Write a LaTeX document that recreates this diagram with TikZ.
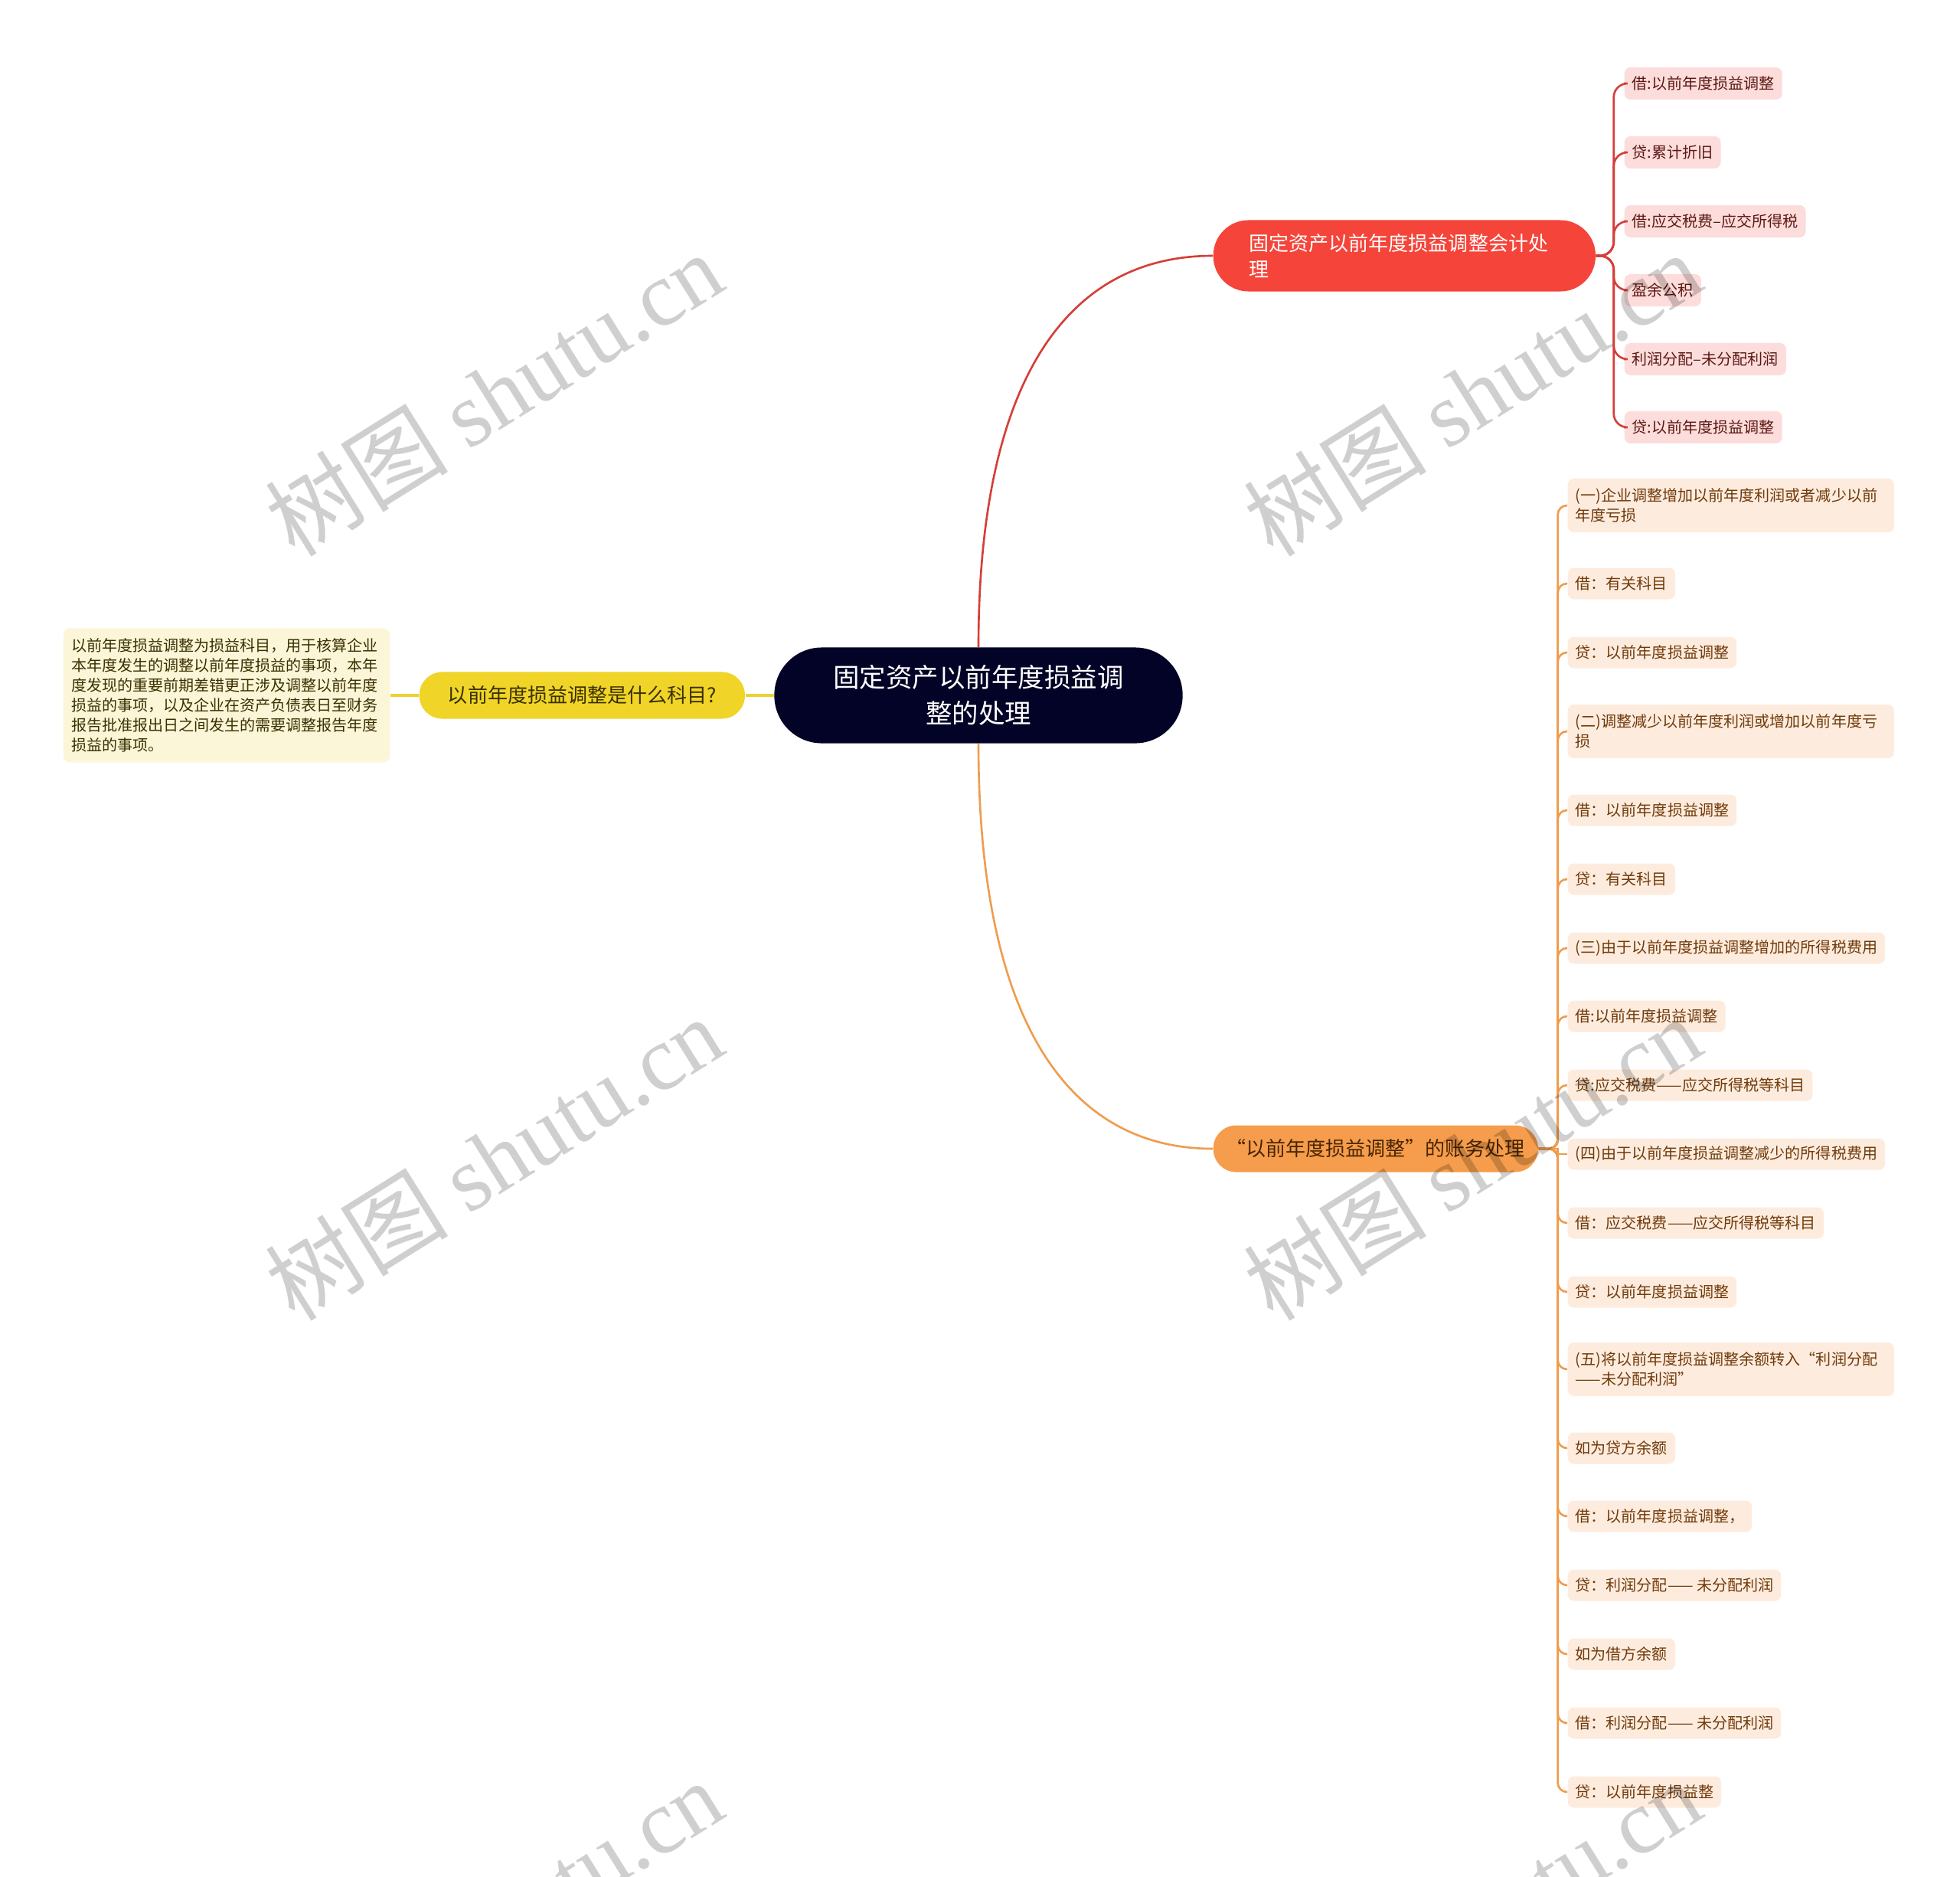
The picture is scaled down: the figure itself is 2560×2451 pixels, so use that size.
\documentclass[tikz,border=0pt]{standalone}
\usepackage{fontspec}
\setmainfont{Noto Sans CJK SC}
\newfontfamily\wmlatin{Liberation Serif}
\usetikzlibrary{positioning}

\definecolor{hubfill}{RGB}{2,3,38}
\definecolor{redfill}{RGB}{245,68,58}
\definecolor{redwire}{RGB}{214,62,56}
\definecolor{pinkfill}{RGB}{252,221,219}
\definecolor{pinktext}{RGB}{92,24,20}
\definecolor{yelfill}{RGB}{240,212,40}
\definecolor{yelwire}{RGB}{236,208,52}
\definecolor{yeltext}{RGB}{58,48,0}
\definecolor{notefill}{RGB}{252,246,216}
\definecolor{orfill}{RGB}{245,157,76}
\definecolor{orwire}{RGB}{238,157,78}
\definecolor{ortext}{RGB}{72,36,0}
\definecolor{orleaffill}{RGB}{253,236,222}
\definecolor{orleaftext}{RGB}{112,58,10}

\begin{document}
\begin{tikzpicture}[x=0.01cm, y=-0.01cm,
      hub/.style={rectangle, rounded corners=0.62cm, fill=hubfill, text=white,
        minimum width=5.33cm, minimum height=1.25cm, align=center,
        font=\fontsize{9.8}{13.4}\selectfont},
      branch/.style={rectangle, fill=#1, rounded corners=0.3cm, minimum height=0.61cm,
        font=\fontsize{7.4}{9.7}\selectfont},
      redleaf/.style={rectangle, fill=pinkfill, text=pinktext, rounded corners=0.08cm,
        minimum height=0.42cm, inner xsep=0.1cm, inner ysep=0pt, anchor=west,
        font=\fontsize{5.7}{7.4}\selectfont},
      orleaf/.style={rectangle, fill=orleaffill, text=orleaftext, rounded corners=0.08cm,
        minimum height=0.41cm, inner xsep=0.1cm, inner ysep=0pt, anchor=west,
        font=\fontsize{5.7}{7.4}\selectfont},
      orlong/.style={orleaf, text width=4.06cm, align=left, minimum height=0.70cm},
      note/.style={rectangle, fill=notefill, text=yeltext, rounded corners=0.08cm,
        text width=4.06cm, align=left, inner xsep=0.1cm, minimum height=1.75cm,
        font=\fontsize{5.7}{7.4}\selectfont},
      redcon/.style={draw=redwire, line width=0.75pt},
      orcon/.style={draw=orwire, line width=0.75pt},
      yelcon/.style={draw=yelwire, line width=1pt},
      wm/.style={text=black, opacity=0.19, rotate=32, font=\fontsize{34}{34}\selectfont}]

  \fill[white] (0,0) rectangle (2560,2451);
  \useasboundingbox (0,0) rectangle (2560,2451);

  % centre and the three branches
  \node[hub] (hub) at (1278,908) {固定资产以前年度损益调\\整的处理};
  \node[branch=redfill, text=white, anchor=west, text width=4.05cm, align=left,
        inner xsep=0.47cm, minimum height=0.93cm, rounded corners=0.46cm] (rbr) at (1584,334)
        {固定资产以前年度损益调整会计处\\理};
  \node[branch=yelfill, text=yeltext, minimum width=4.25cm, left=0.37cm of hub] (ybr)
        {以前年度损益调整是什么科目?};
  \node[branch=orfill, text=ortext, anchor=west, minimum width=4.24cm] (obr) at (1584,1500)
        {“以前年度损益调整”的账务处理};

  % note on the left
  \node[note, left=0.37cm of ybr] (yn) {以前年度损益调整为损益科目，用于核算企业\\本年度发生的调整以前年度损益的事项，本年\\度发现的重要前期差错更正涉及调整以前年度\\损益的事项，以及企业在资产负债表日至财务\\报告批准报出日之间发生的需要调整报告年度\\损益的事项。};

  % red leaves
  \node[redleaf] (r1) at (2121,109) {借:以前年度损益调整};
  \node[redleaf] (r2) at (2121,199) {贷:累计折旧};
  \node[redleaf] (r3) at (2121,289) {借:应交税费–应交所得税};
  \node[redleaf] (r4) at (2121,379) {盈余公积};
  \node[redleaf] (r5) at (2121,469) {利润分配–未分配利润};
  \node[redleaf] (r6) at (2121,558) {贷:以前年度损益调整};

  % orange leaves
  \node[orlong] (o1) at (2047,660) {(一)企业调整增加以前年度利润或者减少以前\\年度亏损};
  \node[orleaf] (o2) at (2047,762) {借：有关科目};
  \node[orleaf] (o3) at (2047,852) {贷：以前年度损益调整};
  \node[orlong] (o4) at (2047,955) {(二)调整减少以前年度利润或增加以前年度亏\\损};
  \node[orleaf] (o5) at (2047,1058) {借：以前年度损益调整};
  \node[orleaf] (o6) at (2047,1148) {贷：有关科目};
  \node[orleaf] (o7) at (2047,1238) {(三)由于以前年度损益调整增加的所得税费用};
  \node[orleaf] (o8) at (2047,1327) {借:以前年度损益调整};
  \node[orleaf] (o9) at (2047,1417) {贷:应交税费——应交所得税等科目};
  \node[orleaf] (o10) at (2047,1507) {(四)由于以前年度损益调整减少的所得税费用};
  \node[orleaf] (o11) at (2047,1597) {借：应交税费——应交所得税等科目};
  \node[orleaf] (o12) at (2047,1687) {贷：以前年度损益调整};
  \node[orlong] (o13) at (2047,1788) {(五)将以前年度损益调整余额转入“利润分配\\——未分配利润”};
  \node[orleaf] (o14) at (2047,1891) {如为贷方余额};
  \node[orleaf] (o15) at (2047,1980) {借：以前年度损益调整，};
  \node[orleaf] (o16) at (2047,2070) {贷：利润分配—— 未分配利润};
  \node[orleaf] (o17) at (2047,2160) {如为借方余额};
  \node[orleaf] (o18) at (2047,2250) {借：利润分配—— 未分配利润};
  \node[orleaf] (o19) at (2047,2340) {贷：以前年度损益整};

  % connectors
  \draw[redcon] (hub.north) .. controls +(0,-358) and +(-184,0) .. (rbr.west);
  \draw[orcon] (hub.south) .. controls +(0,370) and +(-184,0) .. (obr.west);
  \draw[yelcon] (hub.west) -- (ybr.east);
  \draw[yelcon] (ybr.west) -- (yn.east);
  \draw[redcon, rounded corners=0.18cm] (rbr.east) -- ++(23,0) |- (r1.west);
  \draw[redcon, rounded corners=0.18cm] (rbr.east) -- ++(23,0) |- (r2.west);
  \draw[redcon, rounded corners=0.18cm] (rbr.east) -- ++(23,0) |- (r3.west);
  \draw[redcon, rounded corners=0.18cm] (rbr.east) -- ++(23,0) |- (r4.west);
  \draw[redcon, rounded corners=0.18cm] (rbr.east) -- ++(23,0) |- (r5.west);
  \draw[redcon, rounded corners=0.18cm] (rbr.east) -- ++(23,0) |- (r6.west);
  \draw[orcon, rounded corners=0.12cm] (obr.east) -- ++(25,0) |- (o1.west);
  \draw[orcon, rounded corners=0.12cm] (obr.east) -- ++(25,0) |- (o2.west);
  \draw[orcon, rounded corners=0.12cm] (obr.east) -- ++(25,0) |- (o3.west);
  \draw[orcon, rounded corners=0.12cm] (obr.east) -- ++(25,0) |- (o4.west);
  \draw[orcon, rounded corners=0.12cm] (obr.east) -- ++(25,0) |- (o5.west);
  \draw[orcon, rounded corners=0.12cm] (obr.east) -- ++(25,0) |- (o6.west);
  \draw[orcon, rounded corners=0.12cm] (obr.east) -- ++(25,0) |- (o7.west);
  \draw[orcon, rounded corners=0.12cm] (obr.east) -- ++(25,0) |- (o8.west);
  \draw[orcon, rounded corners=0.12cm] (obr.east) -- ++(25,0) |- (o9.west);
  \draw[orcon] (obr.east) -- ++(25,0) |- (o10.west);
  \draw[orcon, rounded corners=0.12cm] (obr.east) -- ++(25,0) |- (o11.west);
  \draw[orcon, rounded corners=0.12cm] (obr.east) -- ++(25,0) |- (o12.west);
  \draw[orcon, rounded corners=0.12cm] (obr.east) -- ++(25,0) |- (o13.west);
  \draw[orcon, rounded corners=0.12cm] (obr.east) -- ++(25,0) |- (o14.west);
  \draw[orcon, rounded corners=0.12cm] (obr.east) -- ++(25,0) |- (o15.west);
  \draw[orcon, rounded corners=0.12cm] (obr.east) -- ++(25,0) |- (o16.west);
  \draw[orcon, rounded corners=0.12cm] (obr.east) -- ++(25,0) |- (o17.west);
  \draw[orcon, rounded corners=0.12cm] (obr.east) -- ++(25,0) |- (o18.west);
  \draw[orcon, rounded corners=0.12cm] (obr.east) -- ++(25,0) |- (o19.west);

  % watermark
  \begin{scope}
    \clip (0,0) rectangle (2560,2451);
    \node[wm] (w1) at (645,514) {树图 {\wmlatin shutu.cn}};
    \node[wm] (w2) at (1923,514) {树图 {\wmlatin shutu.cn}};
    \node[wm] (w3) at (645,1512) {树图 {\wmlatin shutu.cn}};
    \node[wm] (w4) at (1923,1512) {树图 {\wmlatin shutu.cn}};
    \node[wm] (w5) at (645,2509) {树图 {\wmlatin shutu.cn}};
    \node[wm] (w6) at (1923,2509) {树图 {\wmlatin shutu.cn}};
  \end{scope}
\end{tikzpicture}
\end{document}
